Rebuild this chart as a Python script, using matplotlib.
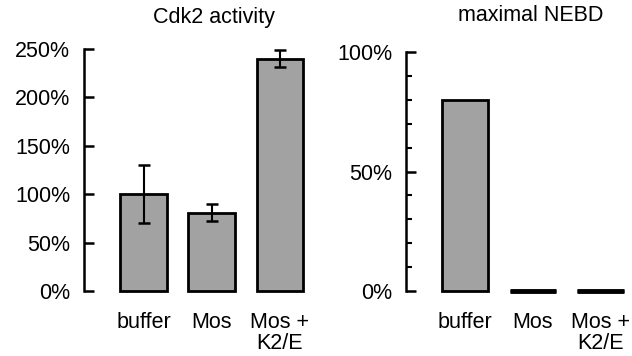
import matplotlib
matplotlib.use("Agg")
import matplotlib.pyplot as plt
from matplotlib.ticker import MultipleLocator, FuncFormatter

plt.rcParams['font.family'] = ['Liberation Sans', 'DejaVu Sans']

conditions = ["buffer", "Mos", "Mos +\nK2/E"]
cdk2_activity = [100, 81, 240]      # percent
cdk2_err = [30, 9, 9]
nebd_max = [80, 0, 0]               # percent

bar_color = '#a2a2a2'
bar_w = 0.69
fs = 15.5

fig = plt.figure(figsize=(6.32, 3.56), dpi=100)
ax1 = fig.add_axes([84/632, 1 - 291/356, 230/632, 242/356])
ax2 = fig.add_axes([406/632, 1 - 291/356, 224/632, 239/356])

pos = list(range(len(conditions)))
pct = FuncFormatter(lambda v, _: f"{v:.0f}%")

# left: Cdk2 activity
ax1.bar(pos, cdk2_activity, width=bar_w, color=bar_color, edgecolor='black',
        linewidth=2, clip_on=False)
ax1.errorbar(pos, cdk2_activity, yerr=cdk2_err, fmt='none', ecolor='black',
             elinewidth=1.5, capsize=4, capthick=1.8)
ax1.set_xlim(-0.88, 2.5)
ax1.set_ylim(0, 250)
ax1.yaxis.set_major_locator(MultipleLocator(50))
ax1.yaxis.set_major_formatter(pct)
ax1.set_title("Cdk2 activity", fontsize=fs, x=0.565, pad=19)

# right: maximal NEBD
ax2.bar(pos, nebd_max, width=bar_w, color=bar_color, edgecolor='black',
        linewidth=2, clip_on=False)
# bars of height zero show up as a thick line
zero = [(p, v) for p, v in zip(pos, nebd_max) if v == 0]
ax2.hlines([v for _, v in zero], [p - bar_w / 2 for p, _ in zero],
           [p + bar_w / 2 for p, _ in zero],
           color='black', linewidth=3.5, clip_on=False)
ax2.set_xlim(-0.87, 2.43)
ax2.set_ylim(0, 100)
ax2.yaxis.set_major_locator(MultipleLocator(50))
ax2.yaxis.set_minor_locator(MultipleLocator(10))
ax2.yaxis.set_major_formatter(pct)
ax2.set_title("maximal NEBD", fontsize=fs, x=0.558, pad=22)

for ax in (ax1, ax2):
    for side in ('top', 'right', 'bottom'):
        ax.spines[side].set_visible(False)
    ax.spines['left'].set_linewidth(1.8)
    ax.set_xticks(pos)
    ax.set_xticklabels(conditions, fontsize=fs, linespacing=1.0)
    ax.tick_params(axis='x', length=0, pad=15)
    ax.tick_params(axis='y', which='major', direction='in', length=7, width=1.8,
                   labelsize=fs, pad=10)
    ax.tick_params(axis='y', which='minor', direction='in', length=4, width=1.5)

fig.savefig("out.png", dpi=100)
